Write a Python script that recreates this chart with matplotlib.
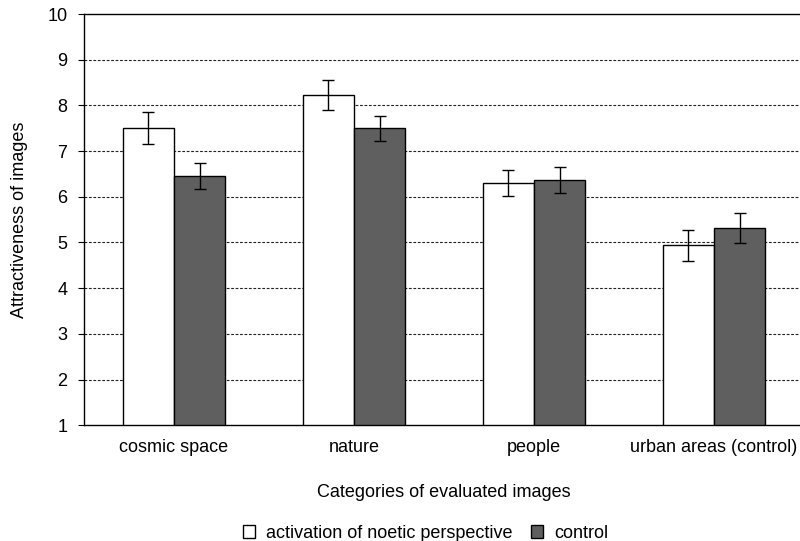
import matplotlib
matplotlib.use("Agg")
import matplotlib.pyplot as plt
import numpy as np

plt.rcParams['font.family'] = ['Liberation Sans', 'DejaVu Sans']

categories = ["cosmic space", "nature", "people", "urban areas (control)"]
activation = [7.50, 8.23, 6.30, 4.94]
activation_err = [0.35, 0.33, 0.29, 0.34]
control = [6.46, 7.50, 6.37, 5.31]
control_err = [0.29, 0.27, 0.28, 0.33]
series_names = ["activation of noetic perspective", "control"]

fs = 13
fig = plt.figure(figsize=(8.0, 5.41), dpi=100)
ax = fig.add_axes([0.105, 0.214, 0.9, 0.76])

x = np.arange(len(categories))
w = 0.285
bottom = 1
ax.bar(x - w / 2, np.array(activation) - bottom, w, bottom=bottom, color="white",
       edgecolor="black", linewidth=1.0, label=series_names[0], zorder=3)
ax.bar(x + w / 2, np.array(control) - bottom, w, bottom=bottom, color="#5f5f5f",
       edgecolor="black", linewidth=1.0, label=series_names[1], zorder=3)
ax.errorbar(x - w / 2, activation, yerr=activation_err, fmt="none", ecolor="black",
            elinewidth=1.0, capsize=4, capthick=1.0, zorder=4)
ax.errorbar(x + w / 2, control, yerr=control_err, fmt="none", ecolor="black",
            elinewidth=1.0, capsize=4, capthick=1.0, zorder=4)

ax.set_xlim(-0.5, 3.5)
ax.set_ylim(1, 10)
ax.set_yticks(range(1, 11))
ax.set_xticks(x)
ax.set_xticklabels(categories, fontsize=fs)
ax.tick_params(axis="x", length=0, pad=10)
ax.tick_params(axis="y", length=4, width=0.8, labelsize=fs, pad=8)

for yv in range(2, 10):
    ax.axhline(yv, color="#222222", linestyle=(0, (2.5, 1.5)), linewidth=0.8, zorder=1)
ax.axhline(10, color="black", linewidth=1.0, zorder=1, clip_on=False)

for s in ["top", "right"]:
    ax.spines[s].set_visible(False)
ax.spines["left"].set_linewidth(1.0)
ax.spines["bottom"].set_linewidth(1.0)

ax.set_ylabel("Attractiveness of images", fontsize=fs, labelpad=14)
ax.set_xlabel("Categories of evaluated images", fontsize=fs, labelpad=20)

leg = fig.legend(loc="lower center", bbox_to_anchor=(0.532, -0.031), ncol=2, frameon=False,
                 fontsize=fs, handlelength=0.7, handleheight=0.7, handletextpad=0.6,
                 columnspacing=1.0)

fig.savefig("out.png", dpi=100)
